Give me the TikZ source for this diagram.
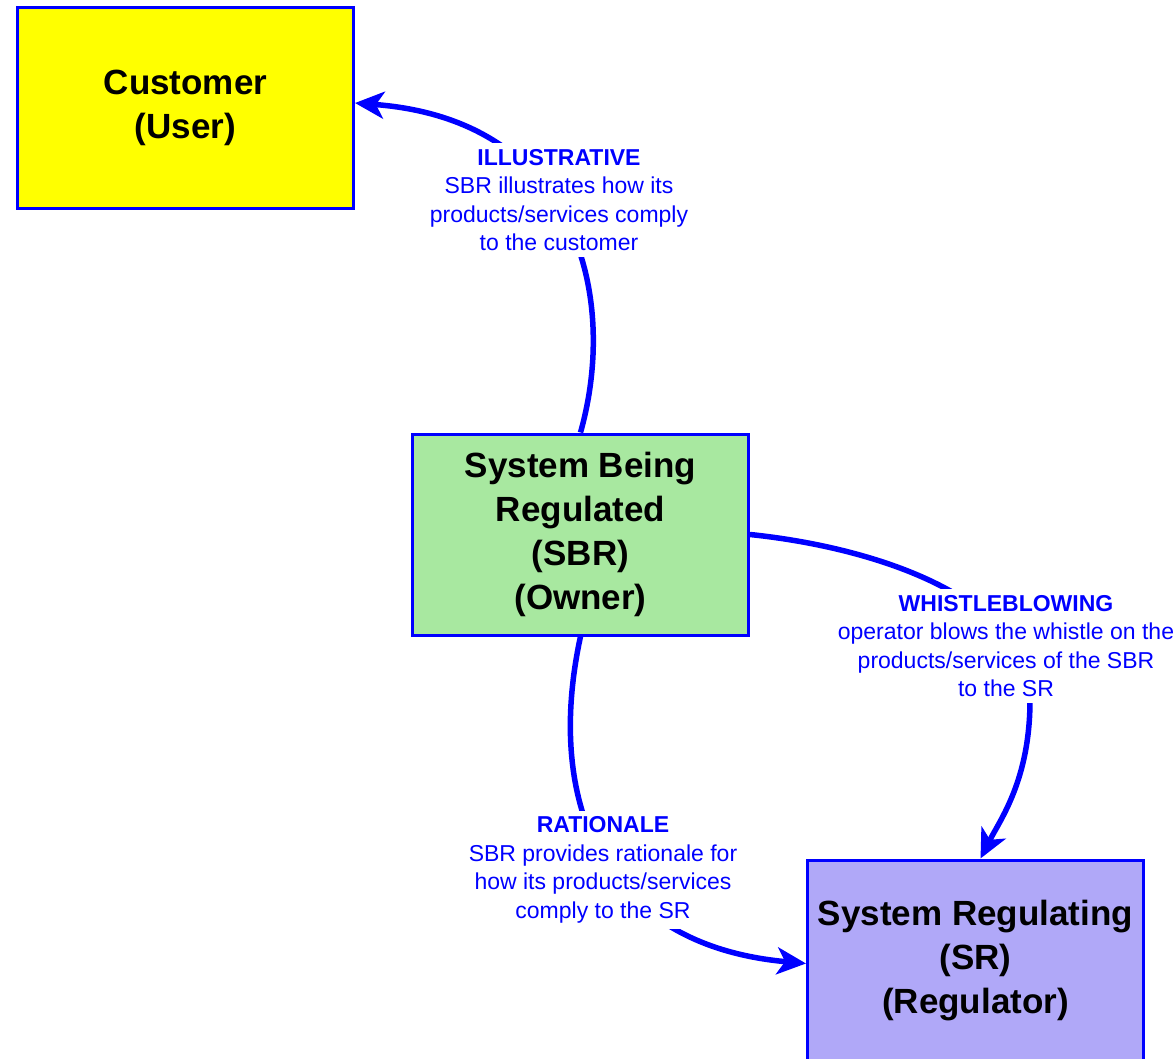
\documentclass[tikz,border=0pt]{standalone}
\usepackage{fontspec}
\setmainfont{Liberation Sans}
\usetikzlibrary{arrows.meta}
\definecolor{lineblue}{RGB}{0,0,255}
\definecolor{custyellow}{RGB}{255,255,0}
\definecolor{sbrgreen}{RGB}{168,232,160}
\definecolor{srpurple}{RGB}{176,168,248}
\begin{document}
\begin{tikzpicture}[x=1pt,y=-1pt,
  box/.style={draw=lineblue, line width=3pt, minimum width=336pt, minimum height=201pt, inner sep=0pt, align=center, font=\fontsize{35}{44}\selectfont\bfseries},
  lbl/.style={fill=white, text=lineblue, align=center, inner sep=6pt, font=\fontsize{23}{28.5}\selectfont},
  flow/.style={draw=lineblue, line width=5.5pt, -{Stealth[length=29pt,width=27pt,inset=8pt]}}]
\clip (0,0) rectangle (1176,1059);
\node[box, fill=custyellow] (cust) at (185.5,108) {Customer\\(User)};
\node[box, fill=sbrgreen] (sbr) at (580.5,534.5) {System Being\\Regulated\\(SBR)\\(Owner)};
\node[box, fill=srpurple] (sr) at (975.5,960.5) {System Regulating\\(SR)\\(Regulator)};
\coordinate (wmid) at (1030,700);
\draw[flow] (sbr.north) .. controls (618,300) and (580,120) .. ([yshift=5pt]cust.east);
\draw[flow] (sbr.east) .. controls (880,548) and (1030,600) .. (wmid) .. controls (1030,780) and (1000,820) .. ([xshift=5pt]sr.north);
\draw[flow] (sbr.south) .. controls (545,800) and (600,945) .. ([yshift=-3pt]sr.west);
\node[lbl] (lill) at (559,200) {\textbf{ILLUSTRATIVE}\\SBR illustrates how its\\products/services comply\\to the customer};
\node[lbl] (lwhi) at (1006,646) {\textbf{WHISTLEBLOWING}\\operator blows the whistle on the\\products/services of the SBR\\to the SR};
\node[lbl] (lrat) at (603,870) {\textbf{RATIONALE}\\SBR provides rationale for\\how its products/services\\comply to the SR};
\end{tikzpicture}
\end{document}
